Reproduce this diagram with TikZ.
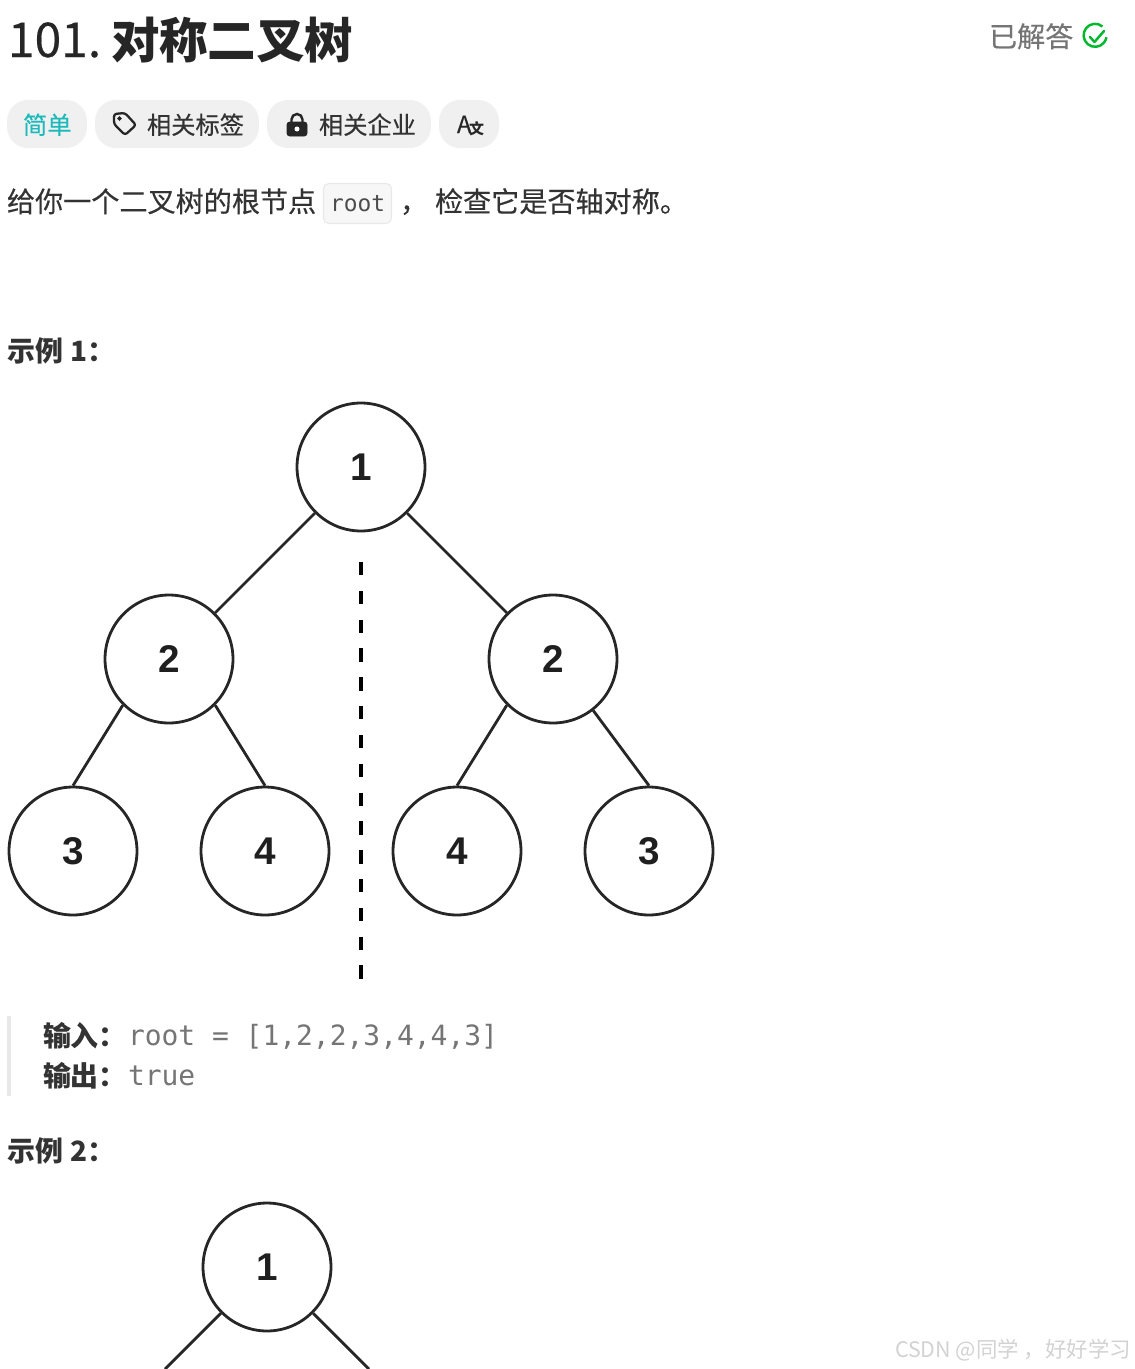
\documentclass[tikz,border=0pt]{standalone}
\usepackage{fontspec}
\setmainfont{Noto Sans CJK SC}
\newfontfamily\medfam{Noto Sans CJK SC}[FakeBold=0.35]
\newfontfamily\monofam{DejaVu Sans Mono}
\newfontfamily\digitfam{Liberation Sans}
\definecolor{titlecol}{HTML}{262626}
\definecolor{bodycol}{HTML}{333333}
\definecolor{pillcol}{HTML}{F0F0F0}
\definecolor{easycol}{HTML}{1CBABA}
\definecolor{greycol}{HTML}{757575}
\definecolor{barcol}{HTML}{E8E8E8}
\definecolor{okcol}{HTML}{00B82E}
\definecolor{markcol}{HTML}{D2D2D2}
\tikzset{
  txt/.style={anchor=base west, inner sep=0pt, outer sep=0pt},
  pill/.style={fill=pillcol, rounded corners=11.9pt, minimum height=0.96cm, inner sep=0pt},
  treenode/.style={circle, draw=black!85, line width=1.6pt, minimum size=2.56cm, inner sep=0pt,
    font=\fontsize{22pt}{26pt}\digitfam\bfseries, text=black!88},
  treeedge/.style={draw=black!85, line width=1.6pt},
}
\begin{document}
\begin{tikzpicture}[x=0.02cm,y=-0.02cm]
        \useasboundingbox (0,0) rectangle (1135,1369);

        \node[txt, text=titlecol, font=\fontsize{27.3pt}{32pt}\medfam] (number) at (8,57) {101.};
        \node[txt, text=titlecol, font=\fontsize{27.6pt}{32pt}\selectfont\bfseries] (title) at (111,58) {对称二叉树};
        \node[txt, text=greycol, font=\fontsize{16pt}{18pt}\medfam] (solved) at (989,47) {已解答};
        \draw[okcol, line width=1.4pt] (1102.5,26.5) arc(-50:-350:11.5);
        \draw[okcol, line width=1.4pt, line cap=round, line join=round] (1090,37) -- (1094.5,42) -- (1104,31);

        \node[pill, minimum width=1.6cm] (easy) at (47,124) {};
        \node[pill, minimum width=3.28cm] (tags) at (177,124) {};
        \node[pill, minimum width=3.28cm] (firms) at (349,124) {};
        \node[pill, minimum width=1.2cm] (trans) at (469,124) {};
        \node[txt, text=easycol, font=\fontsize{13.8pt}{16pt}\medfam] (easytext) at (23,134) {简单};
        \node[txt, text=bodycol, font=\fontsize{13.8pt}{16pt}\medfam] (tagstext) at (147,134) {相关标签};
        \node[txt, text=bodycol, font=\fontsize{13.8pt}{16pt}\medfam] (firmstext) at (319,134) {相关企业};
        \node[txt, text=titlecol, font=\fontsize{13.5pt}{16pt}\medfam] (transa) at (457,133) {A};
        \node[txt, text=titlecol, font=\fontsize{8.5pt}{10pt}\selectfont\bfseries] (transb) at (469,134) {文};

        \draw[titlecol, line width=1.3pt, line join=round, rounded corners=1.5pt] (114,114) -- (125,113) -- (136,125) -- (125,135) -- (114,124) -- cycle;
        \filldraw[titlecol] (119.5,118.5) circle (1pt);
        \filldraw[titlecol, rounded corners=1.5pt] (287,122) rectangle (307,136);
        \draw[titlecol, line width=1.4pt] (291.5,122) -- (291.5,119.5) arc(180:360:5.5) -- (302.5,122);
        \filldraw[white] (297,129) circle (1.2pt);

        \node[txt, text=bodycol, font=\fontsize{16pt}{18pt}\medfam] (desca) at (7,212) {给你一个二叉树的根节点};
        \node[fill=black!3, draw=barcol, line width=0.6pt, rounded corners=3pt, minimum width=1.36cm, minimum height=0.8cm, inner sep=0pt] (rootbox) at (357.5,203.5) {};
        \node[txt, text=black!70, font=\fontsize{13pt}{15pt}\monofam] (rootword) at (330,211) {root};
        \node[txt, text=bodycol, font=\fontsize{16pt}{18pt}\medfam] (comma) at (400,212) {，};
        \node[txt, text=bodycol, font=\fontsize{16pt}{18pt}\medfam] (descb) at (435,212) {检查它是否轴对称。};

        \node[txt, text=bodycol, font=\fontsize{15.9pt}{18pt}\selectfont\bfseries] (exone) at (8,361) {示例 1：};

        \node[treenode] (a) at (361,467) {1};
        \node[treenode] (b) at (169,659) {2};
        \node[treenode] (c) at (553,659) {2};
        \node[treenode] (d) at (73,851) {3};
        \node[treenode] (e) at (265,851) {4};
        \node[treenode] (f) at (457,851) {4};
        \node[treenode] (g) at (649,851) {3};
        \draw[treeedge] (a) -- (b);
        \draw[treeedge] (a) -- (c);
        \draw[treeedge] (b.south west) -- (d.north);
        \draw[treeedge] (b.south east) -- (e.north);
        \draw[treeedge] (c.south west) -- (f.north);
        \draw[treeedge] (c.-52) -- (g.north);

        \coordinate (axistop) at (361,562);
        \coordinate (axisbot) at (361,980);
        \draw[black, line width=2.5pt, dash pattern=on 7.6pt off 8.8pt] (axistop) -- (axisbot);

        \fill[barcol] (7,1016) rectangle (11,1096);
        \node[txt, text=bodycol, font=\fontsize{15.9pt}{18pt}\selectfont\bfseries] (inlabel) at (43,1046) {输入：};
        \node[txt, text=greycol, font=\fontsize{15.9pt}{18pt}\monofam] (invalue) at (128,1045) {root = [1,2,2,3,4,4,3]};
        \node[txt, text=bodycol, font=\fontsize{15.9pt}{18pt}\selectfont\bfseries] (outlabel) at (43,1086) {输出：};
        \node[txt, text=greycol, font=\fontsize{15.9pt}{18pt}\monofam] (outvalue) at (128,1085) {true};

        \node[txt, text=bodycol, font=\fontsize{15.9pt}{18pt}\selectfont\bfseries] (extwo) at (8,1161) {示例 2：};

        \node[treenode] (h) at (267,1267) {1};
        \coordinate (hleft) at (165,1369);
        \coordinate (hright) at (369,1369);
        \draw[treeedge] (h) -- (hleft);
        \draw[treeedge] (h) -- (hright);

        \node[txt, text=markcol, font=\fontsize{12.2pt}{14pt}\selectfont] (mark) at (895,1357) {CSDN @同学 ，好好学习};
       \end{tikzpicture}
\end{document}
